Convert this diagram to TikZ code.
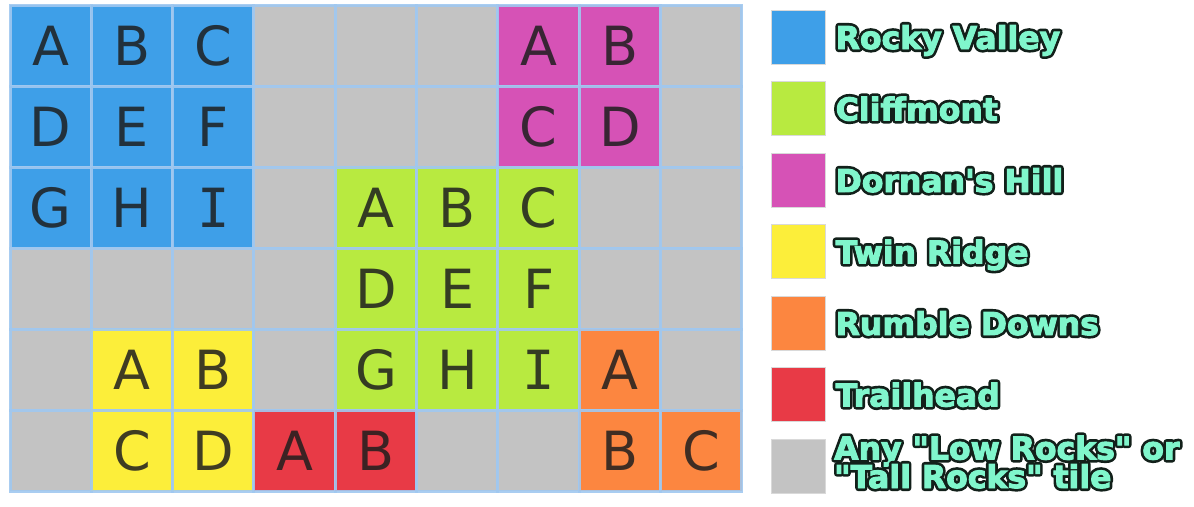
\documentclass[tikz,border=0pt]{standalone}
\usepackage{fontspec}
\setmainfont{DejaVu Sans}
\newfontfamily\monof{DejaVu Sans Mono}
\newfontfamily\legf{DejaVu Sans Bold}[FakeBold=3]
\newfontfamily\legoutf{DejaVu Sans Bold}[FakeBold=20]
\definecolor{rv}{RGB}{62,159,232}
\definecolor{cm}{RGB}{184,234,64}
\definecolor{dh}{RGB}{214,82,182}
\definecolor{tr}{RGB}{252,238,58}
\definecolor{rd}{RGB}{252,134,64}
\definecolor{th}{RGB}{232,58,70}
\definecolor{gy}{RGB}{195,195,195}
\definecolor{gridln}{RGB}{160,200,240}
\definecolor{mint}{RGB}{128,246,204}
\definecolor{outl}{RGB}{18,32,26}
\definecolor{letter}{RGB}{30,30,30}
\newcommand{\Ilet}{{\monof I}}
\begin{document}
\begin{tikzpicture}[x=1pt,y=-1pt,
  cell/.style={draw=gridln, draw opacity=0.9, line width=3pt, minimum width=81.33pt, minimum height=81pt, inner sep=0pt,
    text=letter, text opacity=0.85, font=\fontsize{54}{60}\selectfont},
  legsq/.style={draw=black!15, line width=0.6pt, minimum size=54pt, inner sep=0pt},
  legout/.style={anchor=base west, inner sep=0pt, text=outl, font=\legoutf\fontsize{31.5}{27}\selectfont},
  legtext/.style={anchor=base west, inner sep=0pt, text=mint, font=\legf\fontsize{31.5}{27}\selectfont}]
\newcommand{\legitem}[3]{%
  \node[legout] (#1o) at (#2) {\special{pdf:code 1 j}#3};
  \node[legtext] (#1) at (#2) {#3};}
\useasboundingbox[fill=white] (0,0) rectangle (1194,506);
\foreach \r/\c/\col/\t in {
  0/0/rv/A, 0/1/rv/B, 0/2/rv/C, 0/3/gy/, 0/4/gy/, 0/5/gy/, 0/6/dh/A, 0/7/dh/B, 0/8/gy/,
  1/0/rv/D, 1/1/rv/E, 1/2/rv/F, 1/3/gy/, 1/4/gy/, 1/5/gy/, 1/6/dh/C, 1/7/dh/D, 1/8/gy/,
  2/0/rv/G, 2/1/rv/H, 2/2/rv/\Ilet, 2/3/gy/, 2/4/cm/A, 2/5/cm/B, 2/6/cm/C, 2/7/gy/, 2/8/gy/,
  3/0/gy/, 3/1/gy/, 3/2/gy/, 3/3/gy/, 3/4/cm/D, 3/5/cm/E, 3/6/cm/F, 3/7/gy/, 3/8/gy/,
  4/0/gy/, 4/1/tr/A, 4/2/tr/B, 4/3/gy/, 4/4/cm/G, 4/5/cm/H, 4/6/cm/\Ilet, 4/7/rd/A, 4/8/gy/,
  5/0/gy/, 5/1/tr/C, 5/2/tr/D, 5/3/th/A, 5/4/th/B, 5/5/gy/, 5/6/gy/, 5/7/rd/B, 5/8/rd/C}{
  \node[cell, fill=\col] (c\r\c) at ({10+81.33*(\c+0.5)},{5+81*(\r+0.5)}) {\t};
}
% legend
\node[legsq, fill=rv] (s1) at (798.5,37) {};
\node[legsq, fill=cm] (s2) at (798.5,108.5) {};
\node[legsq, fill=dh] (s3) at (798.5,180) {};
\node[legsq, fill=tr] (s4) at (798.5,251.5) {};
\node[legsq, fill=rd] (s5) at (798.5,323) {};
\node[legsq, fill=th] (s6) at (798.5,394.5) {};
\node[legsq, fill=gy] (s7) at (798.5,466) {};
\legitem{t1}{835.5,49}{Rocky Valley}
\legitem{t2}{835.5,120.5}{Cliffmont}
\legitem{t3}{835.5,192}{Dornan\textquotesingle s Hill}
\legitem{t4}{835.5,263.5}{Twin Ridge}
\legitem{t5}{835.5,335}{Rumble Downs}
\legitem{t6}{835.5,406.5}{Trailhead}
\legitem{t7}{834,459.5}{Any \textquotedbl Low Rocks\textquotedbl\ or}
\legitem{t8}{834,488}{\textquotedbl Tall Rocks\textquotedbl\ tile}
\end{tikzpicture}
\end{document}
